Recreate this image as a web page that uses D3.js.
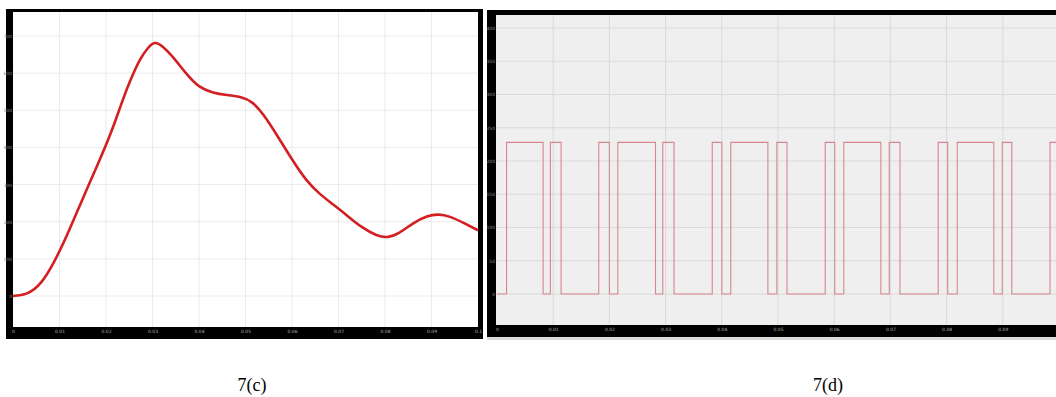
<!DOCTYPE html>
<html>
<head>
<meta charset="utf-8">
<script src="https://cdn.jsdelivr.net/npm/d3@7"></script>
<style>
  html, body { margin: 0; padding: 0; background: #ffffff; }
  svg { display: block; }
</style>
</head>
<body>
<svg id="chart" width="1056" height="397"></svg>
<script>
// ---- Data: panel 7(c) smooth response ----
const curveTimes  = [0, 0.0030, 0.0060, 0.0090, 0.0120, 0.0150, 0.0180, 0.0210, 0.0235, 0.0255, 0.0273, 0.0290, 0.0305, 0.0322, 0.0344, 0.0372, 0.0400, 0.0430, 0.0460, 0.0490, 0.0515, 0.0540, 0.0570, 0.0600, 0.0630, 0.0660, 0.0690, 0.0720, 0.0750, 0.0780, 0.0805, 0.0830, 0.0860, 0.0890, 0.0915, 0.0940, 0.0970, 0.1000];
const curveValues = [0, 7, 36, 96, 175, 262, 348, 438, 524, 588, 636, 667, 681, 671, 643, 600, 565, 548, 541, 535, 520, 485, 428, 368, 314, 275, 245, 215, 186, 165, 159, 170, 195, 214, 219, 213, 196, 177];

// ---- Data: panel 7(d) switching signal ----
const pulseTimes  = [0, 0.0017, 0.0082, 0.0095, 0.0114, 0.0181, 0.0200, 0.0215, 0.0282, 0.0295, 0.0315, 0.0383, 0.0400, 0.0416, 0.0482, 0.0498, 0.0516, 0.0584, 0.0601, 0.0617, 0.0683, 0.0698, 0.0717, 0.0785, 0.0802, 0.0819, 0.0884, 0.0899, 0.0916, 0.0984, 0.1000];
const pulseLevels = [0, 228, 0, 228, 0, 228, 0, 228, 0, 228, 0, 228, 0, 228, 0, 228, 0, 228, 0, 228, 0, 228, 0, 228, 0, 228, 0, 228, 0, 228, 228];

// ---- Tick labels ----
const leftYTicks  = [0, 100, 200, 300, 400, 500, 600, 700];
const rightYTicks = [0, 50, 100, 150, 200, 250, 300, 350, 400];
const xTicksLeft  = [0, 0.01, 0.02, 0.03, 0.04, 0.05, 0.06, 0.07, 0.08, 0.09, 0.1];
const xTicksRight = [0, 0.01, 0.02, 0.03, 0.04, 0.05, 0.06, 0.07, 0.08, 0.09];
const captions    = ["7(c)", "7(d)"];

const svg = d3.select("#chart");
const fmtX = d => d === 0 ? "0" : String(+d.toFixed(2));

// ================= LEFT PANEL =================
const L = { x0: 13, x1: 478, y0: 12, y1: 327 };
const xL = d3.scaleLinear().domain([0, 0.1]).range([L.x0, L.x1]);
const yL = d3.scaleLinear().domain([0, 700]).range([296, 36]);

svg.append("rect").attr("x", 6).attr("y", 9).attr("width", 477).attr("height", 330).attr("fill", "#000");
svg.append("rect").attr("x", L.x0).attr("y", L.y0).attr("width", L.x1 - L.x0).attr("height", L.y1 - L.y0).attr("fill", "#fff");

const gL = svg.append("g");
gL.append("g").selectAll("line").data(leftYTicks).join("line")
  .attr("x1", L.x0).attr("x2", L.x1).attr("y1", d => yL(d)).attr("y2", d => yL(d))
  .attr("stroke", "#ebebeb").attr("stroke-width", 1);
gL.append("g").selectAll("line").data(xTicksLeft.slice(1, -1)).join("line")
  .attr("x1", d => xL(d)).attr("x2", d => xL(d)).attr("y1", L.y0).attr("y2", L.y1)
  .attr("stroke", "#ebebeb").attr("stroke-width", 1);

const axLY = d3.axisLeft(yL).tickValues(leftYTicks).tickSize(0).tickPadding(1);
gL.append("g").attr("transform", `translate(${L.x0},0)`).call(axLY)
  .call(g => g.select(".domain").remove())
  .call(g => g.selectAll("text").attr("fill", "#8a8a8a").attr("font-size", 4.5).attr("font-family", "DejaVu Sans"));
const axLX = d3.axisBottom(xL).tickValues(xTicksLeft).tickFormat(fmtX).tickSize(0).tickPadding(3);
gL.append("g").attr("transform", `translate(0,${L.y1})`).call(axLX)
  .call(g => g.select(".domain").remove())
  .call(g => g.selectAll("text").attr("fill", "#b0b0b0").attr("font-size", 4.5).attr("font-family", "DejaVu Sans"));

const lineL = d3.line().x((d, i) => xL(curveTimes[i])).y(d => yL(d)).curve(d3.curveNatural);
gL.append("path").datum(curveValues).attr("d", lineL)
  .attr("fill", "none").attr("stroke", "#d31f22").attr("stroke-width", 2.6).attr("stroke-linejoin", "round");

// ================= RIGHT PANEL =================
const R = { x0: 496, x1: 1056, y0: 15, y1: 325 };
const xR = d3.scaleLinear().domain([0, 0.1]).range([497, 1059]);
const yR = d3.scaleLinear().domain([0, 400]).range([294, 28]);

svg.append("rect").attr("x", 487).attr("y", 10).attr("width", 570).attr("height", 327).attr("fill", "#000");
svg.append("rect").attr("x", 487).attr("y", 337).attr("width", 570).attr("height", 3).attr("fill", "#dcdcdc");
svg.append("rect").attr("x", R.x0).attr("y", R.y0).attr("width", R.x1 - R.x0).attr("height", R.y1 - R.y0).attr("fill", "#efefef");

const gR = svg.append("g");
gR.append("g").selectAll("line").data(rightYTicks).join("line")
  .attr("x1", R.x0).attr("x2", R.x1).attr("y1", d => yR(d)).attr("y2", d => yR(d))
  .attr("stroke", "#dadada").attr("stroke-width", 1);
gR.append("g").selectAll("line").data(xTicksRight.slice(1)).join("line")
  .attr("x1", d => xR(d)).attr("x2", d => xR(d)).attr("y1", R.y0).attr("y2", R.y1)
  .attr("stroke", "#dadada").attr("stroke-width", 1);

const axRY = d3.axisLeft(yR).tickValues(rightYTicks).tickSize(0).tickPadding(1);
gR.append("g").attr("transform", `translate(${R.x0},0)`).call(axRY)
  .call(g => g.select(".domain").remove())
  .call(g => g.selectAll("text").attr("fill", "#8a8a8a").attr("font-size", 4.5).attr("font-family", "DejaVu Sans"));
const axRX = d3.axisBottom(xR).tickValues(xTicksRight).tickFormat(fmtX).tickSize(0).tickPadding(3);
gR.append("g").attr("transform", `translate(0,${R.y1})`).call(axRX)
  .call(g => g.select(".domain").remove())
  .call(g => g.selectAll("text").attr("fill", "#b0b0b0").attr("font-size", 4.5).attr("font-family", "DejaVu Sans"));

const lineR = d3.line().x((d, i) => xR(pulseTimes[i])).y(d => yR(d)).curve(d3.curveStepAfter);
gR.append("path").datum(pulseLevels).attr("d", lineR)
  .attr("fill", "none").attr("stroke", "#d7868f").attr("stroke-width", 1.1);

// ================= CAPTIONS =================
svg.append("text").attr("x", 252).attr("y", 391).attr("text-anchor", "middle")
  .attr("font-family", "Liberation Serif").attr("font-size", 18).attr("fill", "#000").text(captions[0]);
svg.append("text").attr("x", 828).attr("y", 391).attr("text-anchor", "middle")
  .attr("font-family", "Liberation Serif").attr("font-size", 18).attr("fill", "#000").text(captions[1]);
</script>
</body>
</html>
